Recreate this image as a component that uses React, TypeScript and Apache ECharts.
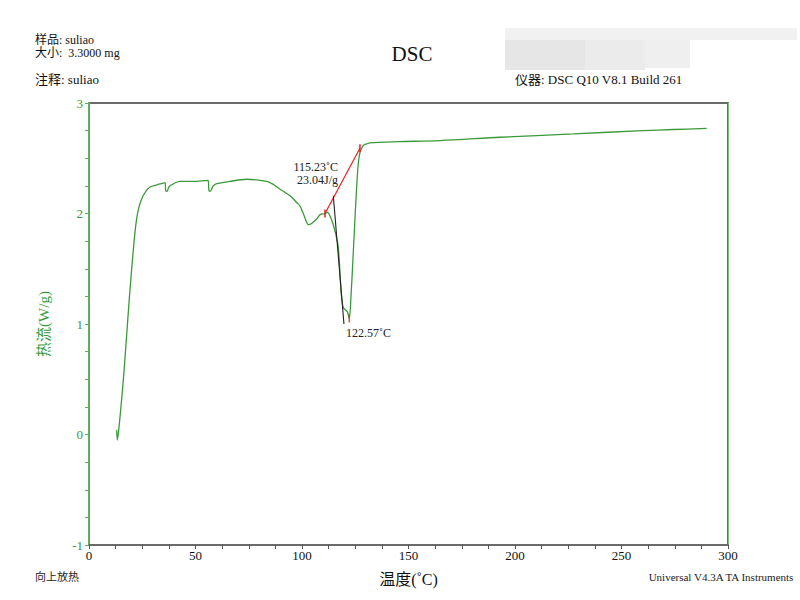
import React, { useEffect, useRef } from "react";
import * as echarts from "echarts";

const temps = [13.0, 13.3, 14.0, 15.0, 16.1, 17.5, 19.0, 20.8, 22.0, 23.1, 24.5, 26.3, 28.6, 32.0, 35.7, 36.0, 36.6, 37.5, 38.8, 42.7, 50.0, 55.9, 56.3, 56.9, 58.3, 60.0, 66.0, 74.0, 80.3, 85.0, 89.7, 94.4, 97.5, 99.0, 100.6, 102.0, 103.0, 104.5, 106.9, 108.5, 110.8, 112.0, 113.1, 114.5, 115.5, 117.0, 118.0, 118.6, 119.4, 121.3, 122.2, 123.0, 123.8, 124.6, 125.4, 126.4, 127.2, 128.0, 129.0, 130.4, 131.9, 145.0, 164.8, 193.0, 227.4, 260.0, 274.3, 290.0];
const heatFlow = [0.04, -0.05, 0.05, 0.25, 0.49, 0.85, 1.25, 1.67, 1.9, 2.03, 2.12, 2.19, 2.24, 2.26, 2.28, 2.21, 2.2, 2.24, 2.26, 2.29, 2.29, 2.3, 2.21, 2.2, 2.25, 2.27, 2.29, 2.31, 2.3, 2.28, 2.22, 2.16, 2.1, 2.07, 2.0, 1.93, 1.9, 1.91, 1.95, 1.99, 2.0, 2.01, 1.98, 1.91, 1.84, 1.7, 1.4, 1.24, 1.15, 1.11, 1.05, 1.25, 1.54, 1.85, 2.15, 2.45, 2.55, 2.59, 2.62, 2.63, 2.64, 2.65, 2.66, 2.69, 2.72, 2.75, 2.76, 2.77];

const baselineT = [110.8, 127.2];
const baselineH = [2.0, 2.59];
const onsetT = [114.7, 119.7];
const onsetH = [2.16, 1.0];
const peakT = 122.2;
const peakH = 1.05;

const xTicks = { min: 0, max: 300, interval: 50 };
const yTicks = { min: -1, max: 3, interval: 1 };

const onsetLabel = "115.23˚C\n23.04J/g";
const peakLabel = "122.57˚C";

const GREEN = "#3a9a3a";
const FONT = "'Liberation Serif', 'Noto Sans CJK SC', serif";

export default function App() {
  const ref = useRef<HTMLDivElement>(null);
  useEffect(() => {
    if (!ref.current) return;
    const chart = echarts.init(ref.current, null, { renderer: "svg" });
    const curve = temps.map((t, i) => [t, heatFlow[i]]);
    const baseline = baselineT.map((t, i) => [t, baselineH[i]]);
    const onset = onsetT.map((t, i) => [t, onsetH[i]]);
    chart.setOption({
      animation: false,
      backgroundColor: "#ffffff",
      textStyle: { fontFamily: FONT },
      title: {
        text: "DSC",
        left: 407,
        top: 38,
        textAlign: "center",
        textStyle: { fontFamily: FONT, fontSize: 21, fontWeight: "normal", color: "#111" },
      },
      grid: {
        left: 89,
        right: 72,
        top: 103,
        bottom: 55,
        show: true,
        borderColor: "#6a6a6a",
        borderWidth: 2,
        backgroundColor: "transparent",
      },
      xAxis: {
        type: "value",
        min: xTicks.min,
        max: xTicks.max,
        interval: xTicks.interval,
        name: "温度(˚C)",
        nameLocation: "middle",
        nameGap: 26,
        nameTextStyle: { fontFamily: FONT, fontSize: 16, color: "#111" },
        axisLine: { show: true, onZero: false, lineStyle: { color: "#6a6a6a", width: 2 } },
        axisTick: { show: true, inside: false, length: 4, lineStyle: { color: "#555" } },
        minorTick: { show: true, splitNumber: 4, length: 4, lineStyle: { color: "#555" } },
        axisLabel: { color: "#111", fontSize: 13, fontFamily: FONT, margin: 4 },
        splitLine: { show: false },
      },
      yAxis: [
        {
          type: "value",
          min: yTicks.min,
          max: yTicks.max,
          interval: yTicks.interval,
          name: "热流(W/g)",
          nameLocation: "middle",
          nameGap: 38,
          nameRotate: 90,
          nameTextStyle: { fontFamily: FONT, fontSize: 15, color: GREEN },
          axisLine: { show: true, onZero: false, lineStyle: { color: "#5fae5f", width: 2 } },
          axisTick: { show: true, inside: false, length: 4, lineStyle: { color: "#5fae5f" } },
          minorTick: { show: true, splitNumber: 4, length: 4, lineStyle: { color: "#5fae5f" } },
          axisLabel: { color: GREEN, fontSize: 13, fontFamily: FONT, margin: 6 },
          splitLine: { show: false },
        },
        {
          type: "value",
          position: "right",
          min: yTicks.min,
          max: yTicks.max,
          interval: yTicks.interval,
          axisLine: { show: true, onZero: false, lineStyle: { color: "#7cc07c", width: 1 } },
          axisTick: { show: false },
          axisLabel: { show: false },
          splitLine: { show: false },
        },
      ],
      series: [
        {
          type: "line",
          data: curve,
          showSymbol: false,
          symbol: "none",
          smooth: 0.3,
          lineStyle: { color: GREEN, width: 1.3 },
          z: 3,
        },
        {
          type: "line",
          data: baseline,
          symbol: "rect",
          symbolSize: [1.5, 8],
          showSymbol: true,
          itemStyle: { color: "#e52020" },
          lineStyle: { color: "#e52020", width: 1.2 },
          z: 4,
        },
        {
          type: "line",
          data: onset,
          symbol: "none",
          lineStyle: { color: "#222", width: 1.1 },
          z: 4,
        },
        {
          type: "scatter",
          data: [[peakT, peakH]],
          symbol: "rect",
          symbolSize: [1.5, 8],
          itemStyle: { color: "#e52020" },
          z: 5,
        },
      ],
      graphic: [
        { type: "rect", shape: { x: 505, y: 28, width: 292, height: 12 }, style: { fill: "#f1f1f1" }, z: 1 },
        { type: "rect", shape: { x: 505, y: 40, width: 80, height: 30 }, style: { fill: "#e6e6e6" }, z: 1 },
        { type: "rect", shape: { x: 585, y: 40, width: 60, height: 30 }, style: { fill: "#ebebeb" }, z: 1 },
        { type: "rect", shape: { x: 645, y: 40, width: 45, height: 28 }, style: { fill: "#efefef" }, z: 1 },
        { type: "text", left: 35, top: 34, style: { text: "样品: suliao", font: `12px ${FONT}`, fill: "#111" } },
        { type: "text", left: 35, top: 47, style: { text: "大小:  3.3000 mg", font: `12px ${FONT}`, fill: "#111" } },
        { type: "text", left: 35, top: 73, style: { text: "注释: suliao", font: `13px ${FONT}`, fill: "#111" } },
        { type: "text", left: 515, top: 73, style: { text: "仪器: DSC Q10 V8.1 Build 261", font: `13px ${FONT}`, fill: "#111" } },
        { type: "text", x: 338, y: 160, style: { text: onsetLabel, font: `12px ${FONT}`, fill: "#222", align: "right", lineHeight: 13 } },
        { type: "text", x: 346, y: 327, style: { text: peakLabel, font: `12px ${FONT}`, fill: "#222" } },
        { type: "text", left: 35, top: 571, style: { text: "向上放热", font: `11px ${FONT}`, fill: "#222" } },
        { type: "text", right: 5, top: 571, style: { text: "Universal V4.3A TA Instruments", font: `11px ${FONT}`, fill: "#222" } },
      ],
    });
    return () => chart.dispose();
  }, []);
  return <div ref={ref} style={{ position: "fixed", left: 0, top: 0, width: 800, height: 600, background: "#fff" }} />;
}
